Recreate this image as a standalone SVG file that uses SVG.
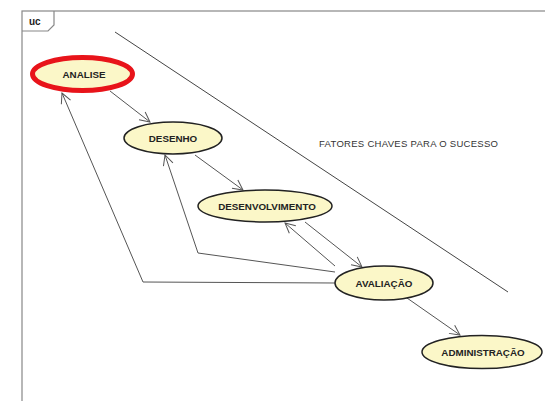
<svg xmlns="http://www.w3.org/2000/svg" width="545" height="401" viewBox="0 0 545 401">
<defs>
<style>
.uc{fill:#FBF7C8;stroke:#222;stroke-width:1.5}
.lbl{font-family:"Liberation Sans",Arial,sans-serif;font-size:9.8px;font-weight:bold;fill:#222;text-anchor:middle}
.edge{fill:none;stroke:#555;stroke-width:1}
.frame{fill:none;stroke:#888;stroke-width:1.2}
</style>
<marker id="arr" viewBox="0 0 12 12" refX="11" refY="6" markerWidth="12" markerHeight="12" markerUnits="userSpaceOnUse" orient="auto">
<path d="M1,1 L11,6 L1,11" fill="none" stroke="#555" stroke-width="1"/>
</marker>
</defs>
<rect x="0" y="0" width="545" height="401" fill="#fff"/>
<g id="frame">
<rect class="frame" x="22" y="11" width="600" height="500"/>
<path class="frame" d="M22,31 L48,31 L54,25 L54,11"/>
<text x="29" y="25" font-family="'Liberation Sans',Arial,sans-serif" font-size="10" font-weight="bold" fill="#222">uc</text>
</g>
<g id="boundary">
<line x1="115" y1="32" x2="508" y2="292" stroke="#444" stroke-width="1"/>
<text x="319" y="147" font-family="'Liberation Sans',Arial,sans-serif" font-size="9.5" fill="#333" textLength="179">FATORES CHAVES PARA O SUCESSO</text>
</g>
<g id="connectors">
<line class="edge" x1="110" y1="91" x2="150" y2="122" marker-end="url(#arr)"/>
<line class="edge" x1="195" y1="155" x2="243" y2="190" marker-end="url(#arr)"/>
<line class="edge" x1="305" y1="222" x2="362" y2="267" marker-end="url(#arr)"/>
<line class="edge" x1="335" y1="266" x2="285" y2="223" marker-end="url(#arr)"/>
<polyline class="edge" points="335,272 198,253 165,155" marker-end="url(#arr)"/>
<polyline class="edge" points="335,283 143,282 62,93" marker-end="url(#arr)"/>
<line class="edge" x1="407" y1="298" x2="460" y2="335" marker-end="url(#arr)"/>
</g>
<g id="analise">
<ellipse cx="82.5" cy="74" rx="50" ry="16.5" fill="#FBF7C8" stroke="#E8141A" stroke-width="5"/>
<text class="lbl" x="84" y="77.5">ANALISE</text>
</g>
<g id="desenho">
<ellipse class="uc" cx="173" cy="138" rx="49" ry="16"/>
<text class="lbl" x="173" y="141.5">DESENHO</text>
</g>
<g id="desenvolvimento">
<ellipse class="uc" cx="265" cy="206" rx="67" ry="16"/>
<text class="lbl" x="267" y="209.5">DESENVOLVIMENTO</text>
</g>
<g id="avaliacao">
<ellipse class="uc" cx="384" cy="283" rx="49" ry="17"/>
<text class="lbl" x="384" y="286.5">AVALIAÇÃO</text>
</g>
<g id="administracao">
<ellipse class="uc" cx="482" cy="352" rx="60" ry="16.5"/>
<text class="lbl" x="483" y="355.5">ADMINISTRAÇÃO</text>
</g>
</svg>
